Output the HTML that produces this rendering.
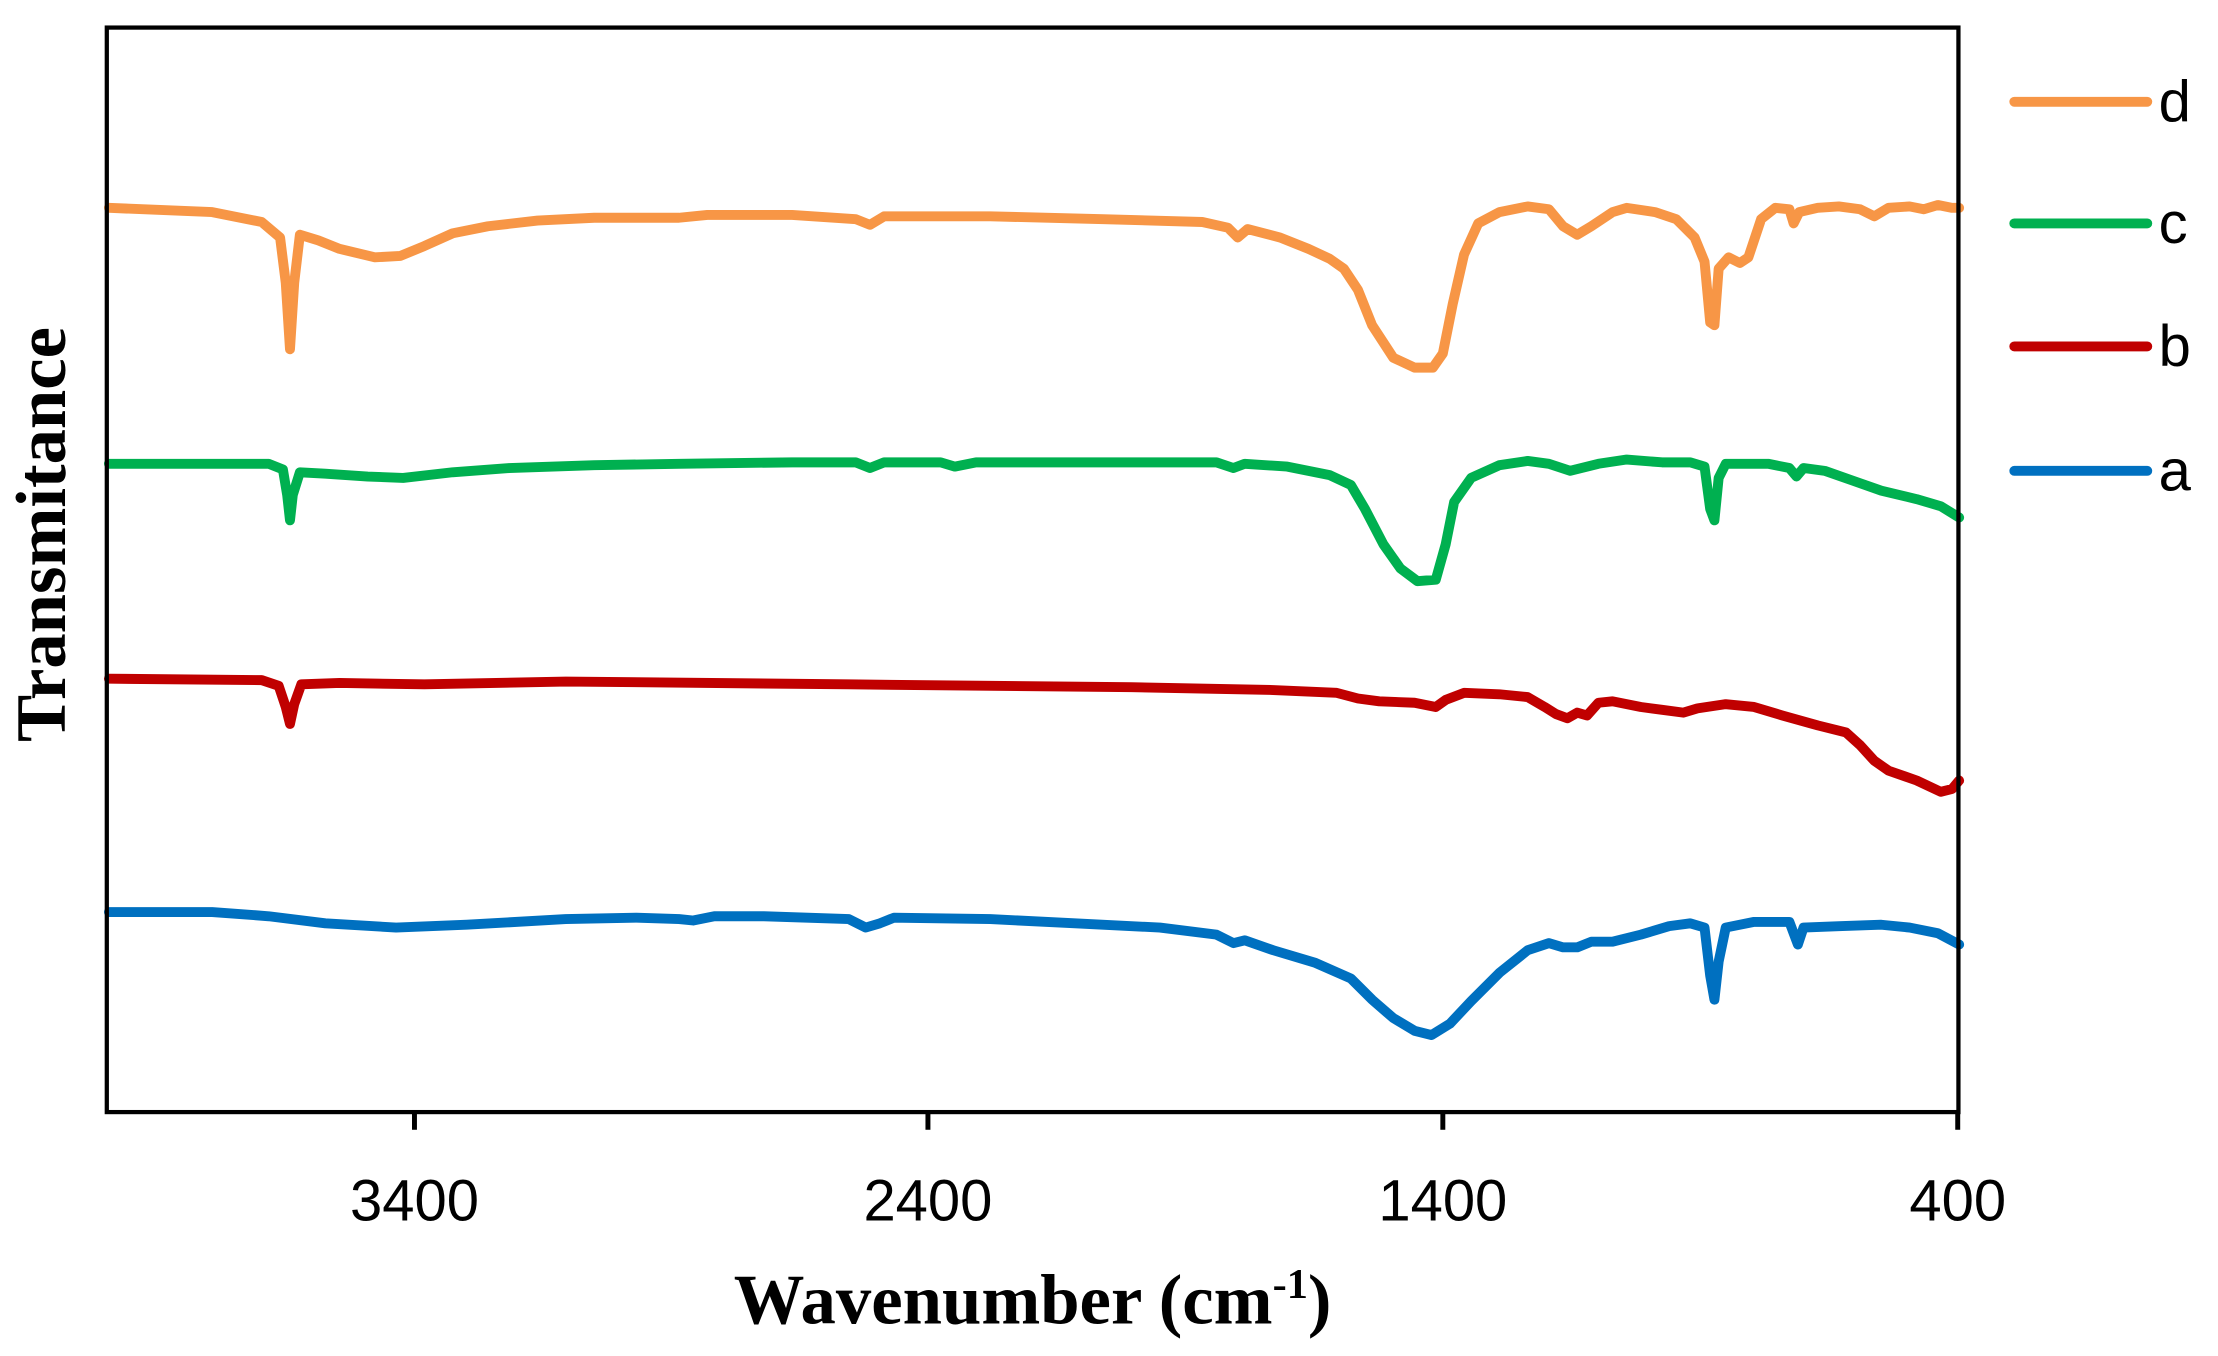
<!DOCTYPE html>
<html><head><style>html,body{margin:0;padding:0;background:#fff}svg{display:block}</style></head><body>
<svg width="2218" height="1356" viewBox="0 0 1568 959" preserveAspectRatio="none" xmlns="http://www.w3.org/2000/svg">
<g fill="none" stroke-width="7" stroke-linejoin="round" stroke-linecap="round">
<path stroke="#F79646" d="M77,147 L150,150 L185,157 L198,168 L202,200 L205,247 L208,200 L212,166 L225,170 L240,176 L265,182 L283,181 L300,174 L320,165 L345,160 L380,156 L420,154 L480,154 L500,152 L560,152 L605,155 L615,159 L625,153 L700,153 L780,155 L850,157 L868,161 L875,168 L882,162 L905,168 L925,176 L940,183 L950,190 L960,205 L970,230 L985,253 L1000,260 L1013,260 L1020,250 L1027,215 L1035,180 L1045,158 L1060,150 L1080,146 L1095,148 L1105,160 L1115,166 L1125,160 L1140,150 L1150,147 L1170,150 L1185,155 L1198,168 L1205,185 L1209,228 L1212,230 L1215,190 L1222,182 L1230,186 L1236,182 L1245,155 L1255,147 L1265,148 L1268,158 L1272,150 L1285,147 L1300,146 L1315,148 L1325,153 L1335,147 L1350,146 L1360,148 L1370,145 L1380,147 L1385,147"/>
<path stroke="#00B050" d="M77,328 L190,328 L200,332 L203,350 L205,368 L207,350 L212,334 L230,335 L260,337 L285,338 L320,334 L360,331 L420,329 L480,328 L560,327 L605,327 L615,331 L625,327 L665,327 L675,330 L690,327 L780,327 L860,327 L872,331 L880,328 L910,330 L940,336 L955,343 L965,360 L978,385 L990,402 L1002,411 L1015,410 L1022,385 L1028,355 L1040,338 L1060,329 L1080,326 L1095,328 L1110,333 L1130,328 L1150,325 L1175,327 L1195,327 L1205,330 L1209,360 L1212,368 L1215,338 L1220,328 L1250,328 L1265,331 L1270,337 L1275,331 L1290,333 L1310,340 L1330,347 L1355,353 L1372,358 L1385,366"/>
<path stroke="#C00000" d="M77,480 L185,481 L197,485 L202,500 L205,512 L208,498 L213,484 L240,483 L300,484 L400,482 L600,484 L800,486 L900,488 L945,490 L960,494 L975,496 L1000,497 L1015,500 L1022,495 L1035,490 L1060,491 L1080,493 L1092,500 L1100,505 L1108,508 L1115,504 L1122,506 L1130,497 L1140,496 L1160,500 L1175,502 L1190,504 L1200,501 L1220,498 L1240,500 L1260,506 L1285,513 L1305,518 L1315,527 L1325,538 L1335,545 L1355,552 L1372,560 L1380,558 L1385,552"/>
<path stroke="#0070C0" d="M77,645 L150,645 L190,648 L230,653 L280,656 L330,654 L400,650 L450,649 L480,650 L490,651 L505,648 L540,648 L600,650 L612,656 L622,653 L632,649 L700,650 L760,653 L820,656 L860,661 L872,667 L880,665 L900,672 L930,681 L955,692 L970,707 L985,720 L1000,729 L1012,732 L1025,724 L1040,708 L1060,688 L1080,672 L1095,667 L1105,670 L1115,670 L1125,666 L1140,666 L1160,661 L1180,655 L1195,653 L1205,656 L1209,690 L1212,707 L1215,680 L1220,656 L1240,652 L1265,652 L1268,660 L1271,668 L1275,656 L1300,655 L1330,654 L1350,656 L1370,660 L1385,668"/>
<line x1="1424" y1="72" x2="1518" y2="72" stroke="#F79646"/>
<line x1="1424" y1="158" x2="1518" y2="158" stroke="#00B050"/>
<line x1="1424" y1="245" x2="1518" y2="245" stroke="#C00000"/>
<line x1="1424" y1="333" x2="1518" y2="333" stroke="#0070C0"/>
</g>
<rect x="75.5" y="19.5" width="1309" height="767" fill="none" stroke="#000" stroke-width="3"/>
<g stroke="#000" stroke-width="3.5">
<line x1="293" y1="786" x2="293" y2="799"/><line x1="656" y1="786" x2="656" y2="799"/><line x1="1020" y1="786" x2="1020" y2="799"/><line x1="1384" y1="786" x2="1384" y2="799"/>
</g>
<g font-family="Liberation Sans, sans-serif" font-size="41" text-anchor="middle" fill="#000">
<text x="293" y="863">3400</text><text x="656" y="863">2400</text><text x="1020" y="863">1400</text><text x="1384" y="863">400</text>
</g>
<g font-family="Liberation Sans, sans-serif" font-size="41" fill="#000">
<text x="1526" y="86">d</text><text x="1526" y="172">c</text><text x="1526" y="259">b</text><text x="1526" y="347">a</text>
</g>
<text x="730" y="936" font-family="Liberation Serif, serif" font-weight="bold" font-size="50" text-anchor="middle">Wavenumber (cm<tspan dy="-18" font-size="30">-1</tspan><tspan dy="18">)</tspan></text>
<text transform="translate(46,378) rotate(-90)" font-family="Liberation Serif, serif" font-weight="bold" font-size="50" text-anchor="middle">Transmitance</text>
</svg>
</body></html>
